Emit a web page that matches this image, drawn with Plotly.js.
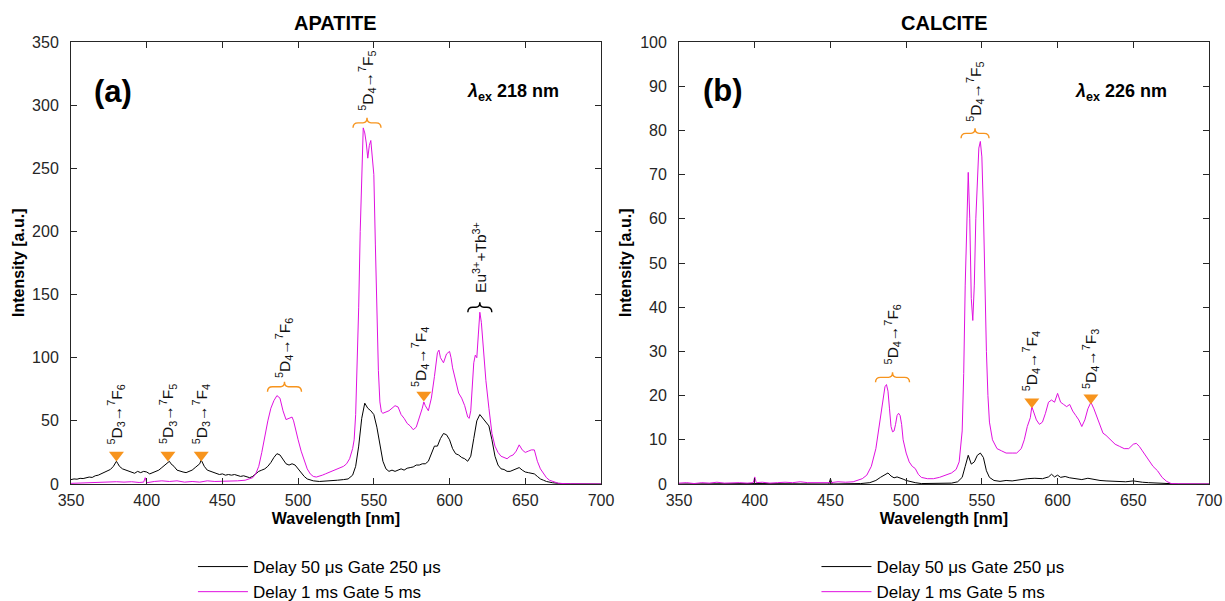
<!DOCTYPE html>
<html>
<head>
<meta charset="utf-8">
<script src="https://cdn.plot.ly/plotly-3.0.1.min.js"></script>
<style>html,body{margin:0;padding:0;background:#fff}#chart{width:1225px;height:601px}</style>
</head>
<body>
<div id="chart"></div>
<script>
// ---------- APATITE (a) ----------
const apShortWl = [350,352,354,356,358,360,362,364,366,368,370,372,374,376,378,379,380,381,382,384,386,388,390,392,394,396,398,400,402,404,406,408,410,412,414,415,416,418,420,422,424,426,428,430,432,434,435,436,437,438,440,442,444,446,448,450,452,454,456,458,460,462,464,466,468,470,472,474,476,478,480,482,484,486,488,490,492,494,496,498,500,502,504,506,508,510,514,518,522,526,530,533,536,538,540,542,544,546,548,550,552,554,556,558,560,562,564,566,568,570,572,574,576,578,580,582,584,586,588,590,592,594,596,598,600,602,604,606,608,610,612,614,616,618,620,622,624,626,628,630,632,634,636,638,640,642,644,646,648,650,652,654,656,658,660,662,664,668,672,680,690,700];
const apShort = [3.5,4,3.8,4.5,4.3,5,5.5,5.2,6.5,7,8,9.5,10,11.5,14,16,18,16,14,12,11,10,9,8.5,10,9,10,9.5,8,9,10,11,13,15,17,18,16,14,11,10,9.5,9,10,11,13,15,16,19,16,14,11,10,9,8,7.5,8,7,7.5,7,7.5,6.5,6,6.5,6,5,6,8,10,11,12,14,17,21,24,23,19,16,15,16,15,12,9,6,4,3,2.5,2,2.2,2.5,3,3.5,4,7,14,30,52,64,60,58,55,45,30,18,12,10,11,10,11,12,11,12.5,13,13.5,15,15,16,16,18,24,30,30,36,40,39,35,28,24,23,21,20,18,22,36,50,55,52,49,46,35,22,15,12,11.5,10,10,11,12.5,13,11,9.5,9,8.5,8,6,4,3,2,1,0.5,0.1,0,0];
const apLongWl = [350,355,360,365,370,375,380,385,390,395,398,399,400,405,410,415,420,425,430,435,440,445,450,455,460,465,468,470,472,474,476,478,480,482,484,486,488,490,492,494,496,497,498,500,502,504,506,508,510,512,514,516,518,520,522,524,526,528,530,532,534,536,537,538,539,540,541,542,543,544,545,546,547,548,549,550,551,552,553,554,555,556,558,560,562,564,566,568,570,572,574,576,578,580,582,583,584,586,588,590,591,592,593,594,596,598,600,601,602,604,606,608,610,612,613,614,615,616,617,618,619,620,621,622,623,624,626,628,630,632,634,636,638,640,642,644,646,648,650,652,654,656,658,660,662,664,666,668,672,680,690,700];
const apLong = [0.5,0.8,0.6,1,1.2,1.5,1.8,1.5,1.8,1.2,1.5,5,1,2,2.5,2,2.5,1.5,2,1.5,2.5,2,2,2.5,2.5,3,4,5,8,14,25,38,50,60,66,70,68,58,51,52,53,50,44,35,26,18,12,8,6,5.5,6,7,8,9,10,10.5,12,13,14,16,20,28,35,55,90,140,200,250,282,278,270,258,268,272,260,245,190,130,90,65,57,56,57,58,60,62,61,55,52,48,46,43,45,52,60,65,62,58,68,85,95,104,106,100,96,103,105,100,92,82,72,68,62,53,52,58,75,96,102,100,118,136,128,112,95,82,60,40,30,25,22,21,20,22,23,26,31,27,25,26,27,27,18,12,8,5,3,2,0.5,0.2,0,0];
const apMarkX = [380,414,436,583];
const apMarkY = [23,23,23,70.5];

// ---------- CALCITE (b) ----------
const caShortWl = [350,400,449,450,451,470,476,480,483,486,488,490,492,494,496,498,500,503,506,510,520,530,534,537,539,541,543,545,547,549,551,553,555,558,562,566,570,575,580,585,590,594,596,598,600,602,605,608,612,616,620,624,628,632,636,640,645,650,653,656,660,665,670,680,700];
const caShort = [0,0.1,0,1.2,0,0.1,0.3,0.8,1.5,2.2,2.5,1.8,1.4,1.6,1.4,1.1,0.8,0.5,0.3,0.1,0.1,0.2,0.5,1.5,4,6.5,4.5,5,6.5,7,6,3,1.5,0.8,0.6,0.8,0.7,1,1.2,1.3,1.2,1.6,2.2,1.6,2,1.5,1.7,1.4,1.2,1,1.3,1,0.8,0.7,0.6,0.5,0.5,0.7,0.5,0.4,0.3,0.2,0.1,0,0];
const caLongWl = [350,355,360,365,370,375,380,385,390,395,399,400,401,405,410,415,420,425,430,435,440,445,450,455,460,465,468,471,474,477,480,482,484,486,487,488,489,490,491,492,493,494,495,496,497,498,500,502,504,506,508,510,514,518,522,526,530,533,535,537,538,539,540,541,542,543,544,545,546,547,548,549,550,551,552,553,554,555,557,560,563,566,570,573,576,578,580,582,583,584,586,588,590,592,594,596,598,600,602,604,606,608,610,612,614,616,618,620,622,624,626,628,630,632,635,638,641,644,647,650,652,654,656,658,660,663,666,669,672,675,680,690,700];
const caLong = [0.2,0.3,0.1,0.3,0.2,0.4,0.2,0.3,0.3,0.2,0.3,1.6,0.3,0.4,0.2,0.3,0.4,0.3,0.5,0.3,0.3,0.4,0.3,0.5,0.4,0.5,0.8,1.2,2,4,8,13,18,22,22.5,21,17,13,11.8,12,13.5,15.5,16,15.5,13.5,10,7,5,4,3.5,2.2,1.5,1.2,1.2,1.5,2,2.5,3.3,5,12,25,45,62,70.5,60,42,37,45,60,70,76,77.5,74,62,45,30,20,14,10,8,7.5,7,7,7,8,10,13,15,17.5,16.5,14.5,13.5,14,16,18.5,19,18.5,20.5,18.5,18,17.5,18,16.5,15.5,14.5,13,14.5,17,18.5,17,15,13,11.5,11,10,9,8.5,8,8,9,9.2,8.5,7.5,6.5,5.5,4,3,1.5,0.6,0.1,0.05,0,0];
const caMarkX = [583,622];
const caMarkY = [18.6,19.5];

const legendNames = ['Delay 50 μs Gate 250 μs','Delay 1 ms Gate 5 ms'];
const panelTitles = ['APATITE','CALCITE'];
const panelTags = ['(a)','(b)'];
const excitation = ['218 nm','226 nm'];

const FONT = 'Liberation Sans, Arial, Helvetica, sans-serif';
const BLACK = '#000000';
const MAG = '#E010E0';
const ORANGE = '#F7941D';
const AX = '#262626';

function lab(d,f){return '<sup>5</sup>D<sub>'+d+'</sub>→<sup>7</sup>F<sub>'+f+'</sub>';}

const traces = [
  {x:apShortWl,y:apShort,type:'scatter',mode:'lines',line:{color:BLACK,width:1},name:legendNames[0],xaxis:'x',yaxis:'y',legend:'legend'},
  {x:apLongWl,y:apLong,type:'scatter',mode:'lines',line:{color:MAG,width:1},name:legendNames[1],xaxis:'x',yaxis:'y',legend:'legend'},
  {x:apMarkX,y:apMarkY,type:'scatter',mode:'markers',marker:{symbol:'triangle-down',size:13,color:ORANGE},showlegend:false,xaxis:'x',yaxis:'y',hoverinfo:'skip'},
  {x:caShortWl,y:caShort,type:'scatter',mode:'lines',line:{color:BLACK,width:1},name:legendNames[0],xaxis:'x2',yaxis:'y2',legend:'legend2'},
  {x:caLongWl,y:caLong,type:'scatter',mode:'lines',line:{color:MAG,width:1},name:legendNames[1],xaxis:'x2',yaxis:'y2',legend:'legend2'},
  {x:caMarkX,y:caMarkY,type:'scatter',mode:'markers',marker:{symbol:'triangle-down',size:13,color:ORANGE},showlegend:false,xaxis:'x2',yaxis:'y2',hoverinfo:'skip'}
];

function lbl(xr,yr,x,y,text){
  return {xref:xr,yref:yr,x:x,y:y,text:text,showarrow:false,textangle:-90,xanchor:'center',yanchor:'bottom',font:{family:FONT,size:15.5,color:'#111'}};
}
const annotations = [
  lbl('x','y',380,30,lab(3,6)),
  lbl('x','y',414,30,lab(3,5)),
  lbl('x','y',436,30,lab(3,4)),
  lbl('x','y',491,82,lab(4,6)),
  lbl('x','y',545.5,294,lab(4,5)),
  lbl('x','y',581,75,lab(4,4)),
  lbl('x','y',620,150,'Eu<sup>3+</sup>+Tb<sup>3+</sup>'),
  lbl('x2','y2',545.5,81.5,lab(4,5)),
  lbl('x2','y2',491,26.5,lab(4,6)),
  lbl('x2','y2',583,20.5,lab(4,4)),
  lbl('x2','y2',622,21,lab(4,3)),
  {xref:'x',yref:'y',x:378,y:311,text:'<b>'+panelTags[0]+'</b>',showarrow:false,font:{family:FONT,size:31,color:'#000'}},
  {xref:'x2',yref:'y2',x:379,y:89,text:'<b>'+panelTags[1]+'</b>',showarrow:false,font:{family:FONT,size:31,color:'#000'}},
  {xref:'x',yref:'y',x:642,y:310,text:'<b><i>λ</i><sub>ex</sub> '+excitation[0]+'</b>',showarrow:false,font:{family:FONT,size:18,color:'#000'}},
  {xref:'x2',yref:'y2',x:642,y:88.6,text:'<b><i>λ</i><sub>ex</sub> '+excitation[1]+'</b>',showarrow:false,font:{family:FONT,size:18,color:'#000'}},
  {xref:'x domain',yref:'paper',x:0.5,y:1,yshift:6,yanchor:'bottom',text:'<b>'+panelTitles[0]+'</b>',showarrow:false,font:{family:FONT,size:20,color:'#000'}},
  {xref:'x2 domain',yref:'paper',x:0.5,y:1,yshift:6,yanchor:'bottom',text:'<b>'+panelTitles[1]+'</b>',showarrow:false,font:{family:FONT,size:20,color:'#000'}},
  {xref:'paper',yref:'paper',x:-0.0466,y:0.5,xanchor:'center',yanchor:'middle',textangle:-90,text:'<b>Intensity [a.u.]</b>',showarrow:false,font:{family:FONT,size:16,color:'#000'}},
  {xref:'paper',yref:'paper',x:0.4868,y:0.5,xanchor:'center',yanchor:'middle',textangle:-90,text:'<b>Intensity [a.u.]</b>',showarrow:false,font:{family:FONT,size:16,color:'#000'}}
];

function brace(xr,yr,x,y,w,color){
  const h=w/2, t=5;
  const p='M'+(-h)+',0 Q'+(-h)+','+t+' '+(-h+5)+','+t+' L-4,'+t+' Q0,'+t+' 0,'+(t+5)+' Q0,'+t+' 4,'+t+' L'+(h-5)+','+t+' Q'+h+','+t+' '+h+',0';
  return {type:'path',xref:xr,yref:yr,xsizemode:'pixel',ysizemode:'pixel',xanchor:x,yanchor:y,path:p,line:{color:color,width:1.4}};
}
const shapes = [
  brace('x','y',491,73,34,ORANGE),
  brace('x','y',545.5,282,28,ORANGE),
  brace('x','y',620,136,24,'#000'),
  brace('x2','y2',491,23,34,ORANGE),
  brace('x2','y2',545.5,78.2,28,ORANGE)
];

function xax(dom,anchor){
  return {domain:dom,anchor:anchor,range:[350,700],dtick:50,tick0:350,ticks:'inside',ticklen:6,tickcolor:AX,showline:true,linecolor:AX,linewidth:1,mirror:'ticks',showgrid:false,zeroline:false,
    tickfont:{family:FONT,size:16,color:AX},ticklabelstandoff:2,title:{text:'<b>Wavelength [nm]</b>',font:{family:FONT,size:16,color:'#000'},standoff:4}};
}
function yax(rng,dt,anchor){
  return {range:rng,dtick:dt,anchor:anchor,ticks:'inside',ticklen:6,tickcolor:AX,showline:true,linecolor:AX,linewidth:1,mirror:'ticks',showgrid:false,zeroline:false,
    tickfont:{family:FONT,size:16,color:AX},ticklabelstandoff:8};
}

const layout = {
  width:1225,height:601,
  margin:{l:71,r:16,t:42,b:117,autoexpand:false},
  paper_bgcolor:'#fff',plot_bgcolor:'#fff',
  font:{family:FONT},
  xaxis:xax([0,0.4657],'y'),
  yaxis:yax([0,350],50,'x'),
  xaxis2:xax([0.5343,1],'y2'),
  yaxis2:yax([0,100],10,'x2'),
  legend:{xref:'container',yref:'container',x:0.1575,y:0.0865,xanchor:'left',yanchor:'top',font:{family:FONT,size:17,color:'#000'},itemwidth:50,tracegroupgap:0,bgcolor:'rgba(0,0,0,0)'},
  legend2:{xref:'container',yref:'container',x:0.6665,y:0.0865,xanchor:'left',yanchor:'top',font:{family:FONT,size:17,color:'#000'},itemwidth:50,tracegroupgap:0,bgcolor:'rgba(0,0,0,0)'},
  annotations:annotations,
  shapes:shapes,
  showlegend:true
};
Plotly.newPlot('chart',traces,layout,{staticPlot:true,displayModeBar:false});
</script>
</body>
</html>
